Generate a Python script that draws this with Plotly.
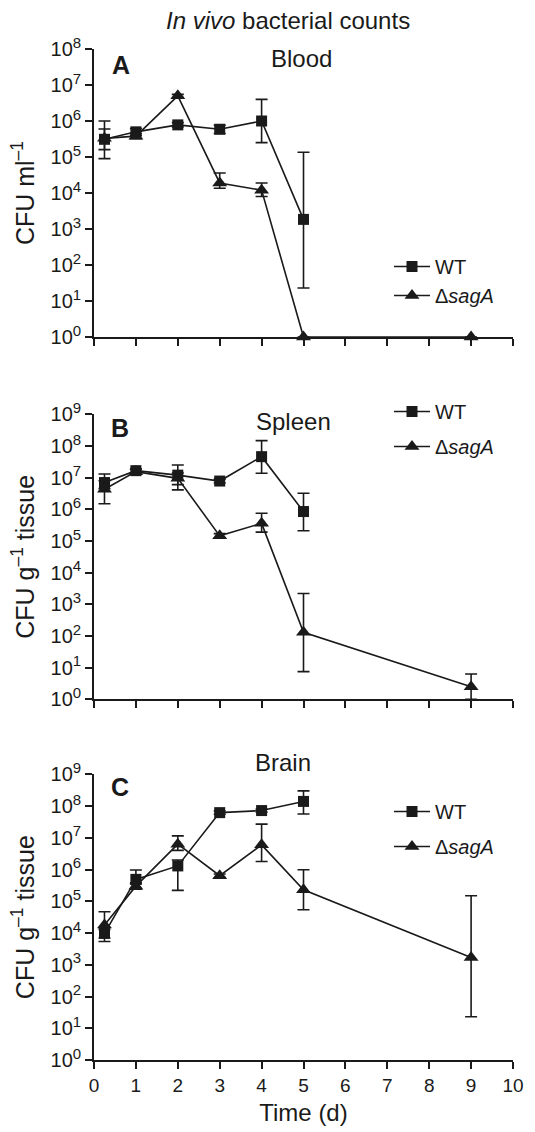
import plotly.graph_objects as go

# ---------------- data ----------------
days = [0.25, 1, 2, 3, 4, 5]
days_mut = [0.25, 1, 2, 3, 4, 5, 9]

# Panel A: Blood (CFU/ml)
blood_wt = [3.1e5, 5.0e5, 7.8e5, 5.9e5, 1.0e6, 1.85e3]
blood_wt_hi = [1.0e6, 6.2e5, 9.0e5, 7.6e5, 4.0e6, 1.35e5]
blood_wt_lo = [9.0e4, 4.0e5, 6.8e5, 4.5e5, 2.5e5, 23]
blood_mut = [3.3e5, 3.8e5, 5.0e6, 1.9e4, 1.2e4, 1, 1]
blood_mut_hi = [6.0e5, 4.5e5, 5.5e6, 3.6e4, 1.9e4, 1, 1]
blood_mut_lo = [1.6e5, 3.2e5, 4.5e6, 1.35e4, 8.0e3, 1, 1]

# Panel B: Spleen (CFU/g tissue)
spleen_wt = [7.0e6, 1.66e7, 1.2e7, 7.8e6, 4.6e7, 8.5e5]
spleen_wt_hi = [1.3e7, 1.9e7, 2.5e7, 9.0e6, 1.47e8, 3.2e6]
spleen_wt_lo = [4.5e6, 1.4e7, 6.0e6, 6.8e6, 1.37e7, 2.1e5]
spleen_mut = [4.3e6, 1.55e7, 9.5e6, 1.45e5, 3.6e5, 1.3e2, 2.5]
spleen_mut_hi = [8.0e6, 1.8e7, 1.4e7, 1.7e5, 7.5e5, 2.2e3, 6.3]
spleen_mut_lo = [1.5e6, 1.3e7, 4.1e6, 1.25e5, 1.9e5, 7.5, 1.0]

# Panel C: Brain (CFU/g tissue)
brain_wt = [9.8e3, 4.9e5, 1.3e6, 6.2e7, 7.2e7, 1.4e8]
brain_wt_hi = [1.3e4, 9.7e5, 2.0e6, 7.0e7, 8.0e7, 3.0e8]
brain_wt_lo = [5.4e3, 3.5e5, 2.2e5, 5.5e7, 6.4e7, 5.6e7]
brain_mut = [1.8e4, 3.0e5, 6.3e6, 6.4e5, 6.0e6, 2.3e5, 1.7e3]
brain_mut_hi = [4.7e4, 3.8e5, 1.15e7, 7.2e5, 2.7e7, 9.8e5, 1.5e5]
brain_mut_lo = [7.0e3, 2.4e5, 4.0e6, 5.6e5, 1.8e6, 5.4e4, 23]

x_ticks = list(range(0, 11))
y_exp_A = list(range(0, 9))
y_exp_BC = list(range(0, 10))

# ---------------- figure ----------------
FONT = "Liberation Sans, Arial, sans-serif"
INK = "#1a1a1a"
W, H = 535, 1132
ML, MR, MT, MB = 94, 22, 49, 72
PW, PH = W - ML - MR, H - MT - MB

def px(x):
    return (x - ML) / PW

def py(y):
    return 1 - (y - MT) / PH

fig = go.Figure()

panels = [
    ("", blood_wt, blood_wt_hi, blood_wt_lo, blood_mut, blood_mut_hi, blood_mut_lo, "legend"),
    ("2", spleen_wt, spleen_wt_hi, spleen_wt_lo, spleen_mut, spleen_mut_hi, spleen_mut_lo, "legend2"),
    ("3", brain_wt, brain_wt_hi, brain_wt_lo, brain_mut, brain_mut_hi, brain_mut_lo, "legend3"),
]

def err(vals, hi, lo):
    return dict(
        type="data", symmetric=False,
        array=[h - v for v, h in zip(vals, hi)],
        arrayminus=[v - l for v, l in zip(vals, lo)],
        color=INK, thickness=1.6, width=6,
    )

for suffix, wt, wt_hi, wt_lo, mut, mut_hi, mut_lo, leg in panels:
    xa = "x" + suffix
    ya = "y" + suffix
    fig.add_trace(go.Scatter(
        x=days, y=wt, mode="lines+markers", name="WT",
        line=dict(color=INK, width=1.6),
        marker=dict(symbol="square", size=11, color=INK),
        error_y=err(wt, wt_hi, wt_lo),
        xaxis=xa, yaxis=ya, legend=leg, legendgroup="wt" + suffix,
        cliponaxis=False,
    ))
    fig.add_trace(go.Scatter(
        x=days_mut, y=mut, mode="lines+markers", name="Δ<i>sagA</i>",
        line=dict(color=INK, width=1.6),
        marker=dict(symbol="triangle-up", size=13, color=INK),
        error_y=err(mut, mut_hi, mut_lo),
        xaxis=xa, yaxis=ya, legend=leg, legendgroup="mut" + suffix,
        cliponaxis=False,
    ))

xaxis_common = dict(
    range=[0, 10], tickvals=x_ticks, showline=True, linecolor=INK, linewidth=1.6,
    ticks="outside", ticklen=7, tickwidth=1.6, tickcolor=INK, showgrid=False,
    zeroline=False, tickfont=dict(family=FONT, size=19, color=INK),
    domain=[0, 1], automargin=False,
)

def yaxis_common(exps, top, bot, title):
    return dict(
        type="log", range=[0, exps[-1]],
        tickvals=[10 ** e for e in exps],
        ticktext=[f"10<sup><span style='font-size:15px'>{e}</span></sup>" for e in exps],
        showline=True, linecolor=INK, linewidth=1.6,
        ticks="outside", ticklen=7, tickwidth=1.6, tickcolor=INK,
        showgrid=False, zeroline=False,
        tickfont=dict(family=FONT, size=20, color=INK),
        domain=[py(bot), py(top)], automargin=False,
        title=dict(text=title, font=dict(family=FONT, size=25, color=INK), standoff=9),
    )

fig.update_layout(
    width=W, height=H,
    margin=dict(l=ML, r=MR, t=MT, b=MB, autoexpand=False),
    paper_bgcolor="white", plot_bgcolor="white",
    showlegend=True,
    font=dict(family=FONT, color=INK),
    xaxis=dict(xaxis_common, anchor="y", showticklabels=False),
    yaxis=yaxis_common(y_exp_A, 49, 337, "CFU ml<sup>–1</sup>"),
    xaxis2=dict(xaxis_common, anchor="y2", showticklabels=False),
    yaxis2=yaxis_common(y_exp_BC, 414.3, 699.3, "CFU g<sup>–1</sup> tissue"),
    xaxis3=dict(xaxis_common, anchor="y3", showticklabels=True,
                title=dict(text="Time (d)", font=dict(family=FONT, size=24, color=INK), standoff=10)),
    yaxis3=yaxis_common(y_exp_BC, 774.3, 1060, "CFU g<sup>–1</sup> tissue"),
)
fig.update_layout(yaxis=dict(anchor="x"), yaxis2=dict(anchor="x2"), yaxis3=dict(anchor="x3"))

leg_common = dict(
    xref="paper", yref="paper", xanchor="left", yanchor="top",
    bgcolor="rgba(0,0,0,0)", borderwidth=0,
    font=dict(family=FONT, size=20, color=INK),
    itemwidth=36,
)
fig.update_layout(
    legend=dict(leg_common, x=px(389), y=py(247), tracegroupgap=0),
    legend2=dict(leg_common, x=px(389), y=py(392), tracegroupgap=6),
    legend3=dict(leg_common, x=px(389), y=py(792), tracegroupgap=6),
)

def ann(text, x, y, size, bold=False):
    fig.add_annotation(
        text=f"<b>{text}</b>" if bold else text, x=px(x), y=py(y),
        xref="paper", yref="paper", xanchor="center", yanchor="middle",
        showarrow=False,
        font=dict(family=FONT, size=size, color=INK),
    )

ann("<i>In vivo</i> bacterial counts", 288, 20, 24)
ann("Blood", 301, 59, 24)
ann("Spleen", 293, 421, 24)
ann("Brain", 283, 762, 24)
ann("A", 121, 65, 25, bold=True)
ann("B", 120, 428, 25, bold=True)
ann("C", 120, 787, 25, bold=True)

fig.write_html(
    "out.html",
    config={"displayModeBar": False},
    post_script="document.body.style.margin='0';document.body.style.overflow='hidden';",
)
